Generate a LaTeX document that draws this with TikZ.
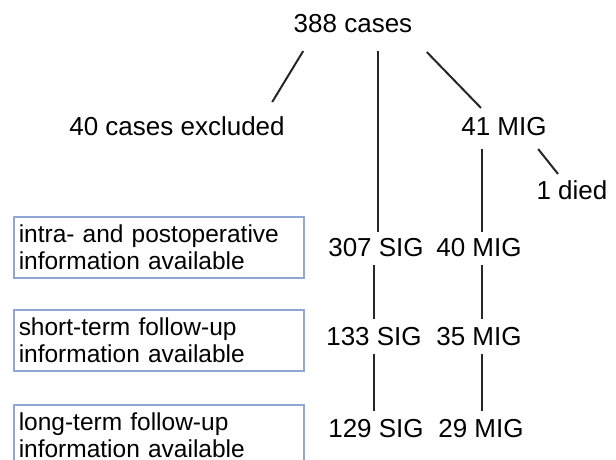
\documentclass[tikz,border=0pt]{standalone}
\usepackage{fontspec}
\setmainfont{Liberation Sans}
\definecolor{boxblue}{RGB}{143,166,214}

\begin{document}
\begin{tikzpicture}[x=1pt,y=-1pt,
  lbl/.style={font=\fontsize{26}{28}\selectfont, text height=19pt, text depth=0pt},
  infobox/.style={draw=boxblue, line width=1.5pt, anchor=north west,
    minimum width=290pt, minimum height=61pt, inner xsep=5pt,
    text width=280pt, align=left, font=\fontsize{24.5}{26.5}\selectfont},
  link/.style={line width=2pt, draw=black!85, shorten <=5pt, shorten >=4pt}]
\clip (0,0) rectangle (616,460);

\node[lbl] (all) at (353,23) {388 cases};
\node[lbl] (excl) at (177,126) {40 cases excluded};
\node[lbl] (mig41) at (504,126) {41 MIG};
\node[lbl] (died) at (572,190) {1 died};

\node[lbl] (sig307) at (376,247) {307 SIG};
\node[lbl] (mig40) at (479,247) {40 MIG};
\node[lbl] (sig133) at (374,336) {133 SIG};
\node[lbl] (mig35) at (479,336) {35 MIG};
\node[lbl] (sig129) at (376,428) {129 SIG};
\node[lbl] (mig29) at (481,428) {29 MIG};

% boxes on the left
\node[infobox] (periop) at (13,216) {intra- and postoperative\\information available};
\node[infobox] (short) at (13,309) {short-term follow-up\\information available};
\node[infobox] (long) at (13,404) {long-term follow-up\\information available};

% top branches
\draw[line width=2pt, draw=black!85] ([xshift=13pt,yshift=-15pt]all.south west) -- ([xshift=-16pt,yshift=11pt]excl.north east);
\draw[line width=2pt, draw=black!85] ([xshift=11pt,yshift=-16pt]all.south east) -- ([xshift=-23pt,yshift=5pt]mig41.north);
\draw[line width=2pt, draw=black!85] ([xshift=-12pt,yshift=-10pt]mig41.south east) -- ([xshift=-14pt,yshift=3pt]died.north);
\draw[link, shorten <=15pt, shorten >=2pt] ([xshift=2pt]sig307.north |- all.south) -- ([xshift=2pt]sig307.north);
\draw[link, shorten <=10pt, shorten >=2pt] ([xshift=3pt]mig40.north |- mig41.south) -- ([xshift=3pt]mig40.north);

% columns
\draw[link] (sig307.south -| sig133) -- (sig133.north);
\draw[link] (sig133.south) -- (sig133.north |- sig129.north);
\draw[link] ([xshift=3pt]mig40.south) -- ([xshift=3pt]mig35.north);
\draw[link] ([xshift=3pt]mig35.south) -- ([xshift=3pt]mig35.north |- mig29.north);
\end{tikzpicture}
\end{document}
